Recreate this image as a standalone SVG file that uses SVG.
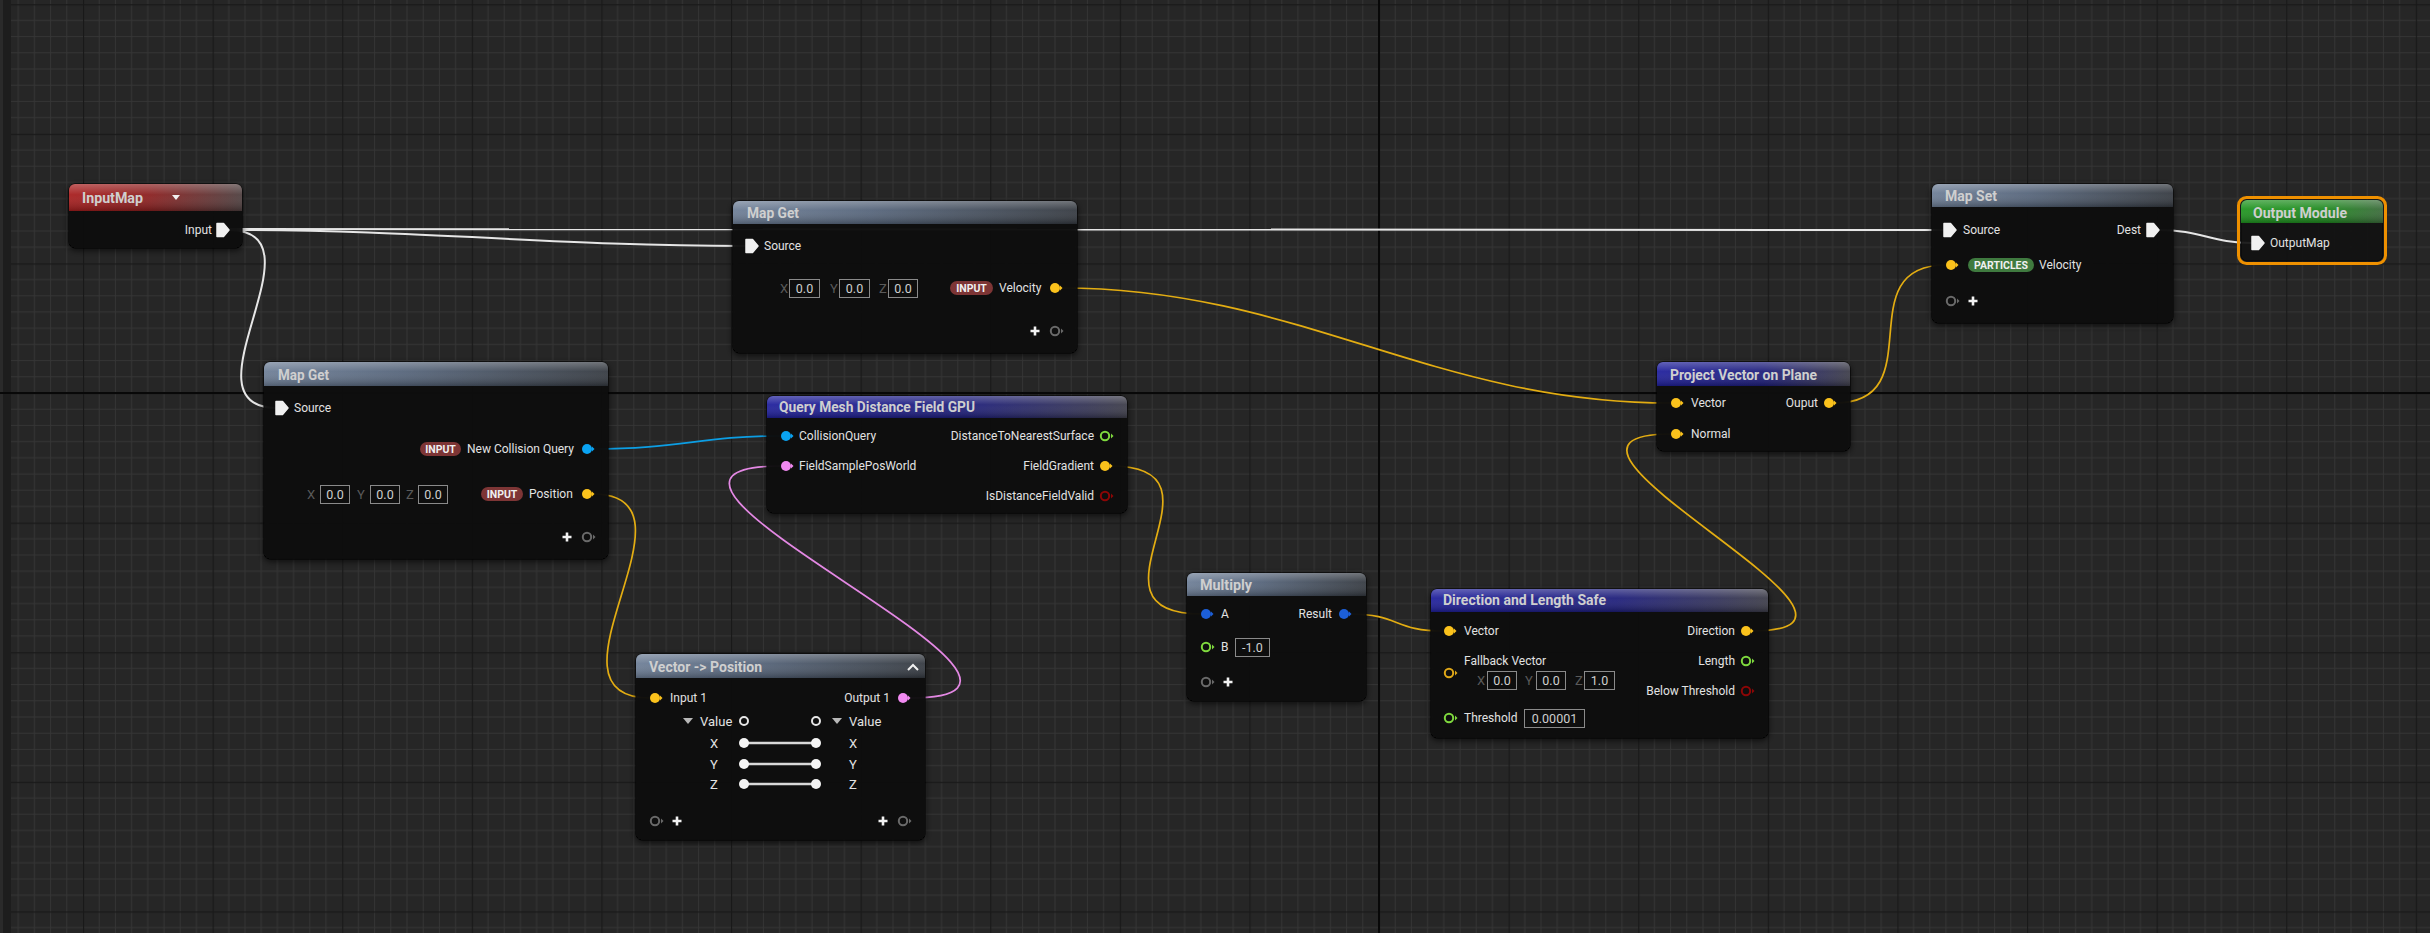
<svg xmlns="http://www.w3.org/2000/svg" xmlns:xlink="http://www.w3.org/1999/xlink" width="2430" height="933" viewBox="0 0 2430 933">
<defs>
  <pattern id="grid" patternUnits="userSpaceOnUse" x="83" y="4.2" width="129.6" height="129.6">
    <rect width="129.6" height="129.6" fill="#262626"/>
    <path d="M16.2 0V129.6M32.4 0V129.6M48.6 0V129.6M64.8 0V129.6M81 0V129.6M97.2 0V129.6M113.4 0V129.6M0 16.2H129.6M0 32.4H129.6M0 48.6H129.6M0 64.8H129.6M0 81H129.6M0 97.2H129.6M0 113.4H129.6" stroke="#353535" stroke-width="1" fill="none"/>
    <path d="M0.5 0V129.6M0 0.5H129.6" stroke="#191919" stroke-width="1.3" fill="none"/>
  </pattern>
  <linearGradient id="hGrey" x1="0" y1="0" x2="1" y2="0">
    <stop offset="0" stop-color="#6d7e96"/><stop offset="0.4" stop-color="#55647a"/><stop offset="1" stop-color="#343940"/>
  </linearGradient>
  <linearGradient id="hBlue" x1="0" y1="0" x2="1" y2="0">
    <stop offset="0" stop-color="#1f1f9c"/><stop offset="0.55" stop-color="#1d1d7a"/><stop offset="1" stop-color="#3c3c48"/>
  </linearGradient>
  <linearGradient id="hRed" x1="0" y1="0" x2="1" y2="0">
    <stop offset="0" stop-color="#a81d1d"/><stop offset="0.45" stop-color="#8c1e1e"/><stop offset="1" stop-color="#4d3e3e"/>
  </linearGradient>
  <linearGradient id="hGreen" x1="0" y1="0" x2="1" y2="0">
    <stop offset="0" stop-color="#1f951f"/><stop offset="0.6" stop-color="#1e881e"/><stop offset="1" stop-color="#3a6a3a"/>
  </linearGradient>
  <linearGradient id="gloss" x1="0" y1="0" x2="0" y2="1">
    <stop offset="0" stop-color="#ffffff" stop-opacity="0.3"/><stop offset="0.4" stop-color="#ffffff" stop-opacity="0.06"/><stop offset="1" stop-color="#000000" stop-opacity="0.25"/>
  </linearGradient>
  <filter id="sh" x="-10%" y="-10%" width="120%" height="130%">
    <feDropShadow dx="0" dy="2" stdDeviation="3" flood-color="#000" flood-opacity="0.7"/>
  </filter>
  <g id="pd"><circle r="5" fill="currentColor"/><path d="M5,-2.5 L7.5,0 L5,2.5Z" fill="currentColor"/></g>
  <g id="ph"><circle r="4.2" fill="none" stroke="currentColor" stroke-width="2"/><path d="M6,-2.5 L8.5,0 L6,2.5Z" fill="currentColor"/></g>
  <path id="pm" d="M-6,-6.5 L0.5,-6.5 L6,0 L0.5,6.5 L-6,6.5 Z" fill="#f0f0f0" stroke="#f0f0f0" stroke-width="1.5" stroke-linejoin="round"/>
  <path id="plus" d="M-4.5,0H4.5M0,-4.5V4.5" stroke="#f2f2f2" stroke-width="2.6" fill="none"/>
  <path id="tri" d="M-5,-3 L5,-3 L0,3Z" fill="#b8b8b8"/>
  <style>
    .body{fill:#111111;fill-opacity:0.92;stroke:#060606;stroke-width:1}
    .ttl{font-family:Roboto,"Liberation Sans",sans-serif;font-weight:bold;font-size:14px;fill:#cfcfcf}
    .lbl{font-family:Roboto,"Liberation Sans",sans-serif;font-size:12px;fill:#e2e2e2}
    .end{text-anchor:end}
    .dim{font-family:Roboto,"Liberation Sans",sans-serif;font-size:13px;fill:#5a5a5a}
    .val{font-family:Roboto,"Liberation Sans",sans-serif;font-size:12.5px;fill:#cfcfcf;text-anchor:middle}
    .box{fill:none;stroke:#8a8a8a;stroke-width:1}
    .pill{font-family:Roboto,"Liberation Sans",sans-serif;font-size:10.5px;font-weight:bold;fill:#f0f0f0;text-anchor:middle}
    .wire{fill:none;stroke-width:1.7}
    .w{stroke:#e6e6e6;stroke-width:2}
    .y{stroke:#e3ad12}
    .b{stroke:#0c9ee4}
    .p{stroke:#e488e4}
    .yc{color:#fbc21c}
    .bc{color:#0aa3f2}
    .pc{color:#f28af2}
    .mb{color:#1c5fd8}
    .gc{color:#7fd93e}
    .rc{color:#8c0606}
    .xc{color:#6a6a6a}
    .yh{color:#e0a818}
  </style>
</defs>

<rect width="2430" height="933" fill="url(#grid)"/>
<rect x="0" y="0" width="11" height="933" fill="#1d1d1d"/>
<rect x="0" y="0" width="3" height="933" fill="#2a2a2a"/>
<path d="M1379 0V933M0 393H2430" stroke="#080808" stroke-width="2" fill="none"/>

<g id="connectors">
  <path class="wire w" d="M229 230 C 429 230, 552 246, 746 246"/>
  <path class="wire w" d="M229 229 L1944 230"/>
  <path class="wire w" d="M229 230 C 329 230, 177 408, 277 408"/>
  <path class="wire w" d="M2159 230 C 2200 230, 2212 243, 2252 243"/>
  <path class="wire b" d="M593 449 C 680 449, 700 436, 781 436"/>
  <path class="wire y" d="M593 494 C 712 494, 530 698, 650 698"/>
  <path class="wire p" d="M909 698 C 1128 698, 561 466, 781 466"/>
  <path class="wire y" d="M1111 466 C 1240 466, 1071 614, 1201 614"/>
  <path class="wire y" d="M1350 614 C 1400 614, 1393 631, 1444 631"/>
  <path class="wire y" d="M1752 631 C 1931 631, 1491 434, 1671 434"/>
  <path class="wire y" d="M1061 288 C 1300 288, 1431 403, 1671 403"/>
  <path class="wire y" d="M1835 403 C 1934 403, 1846 265, 1946 265"/>
</g>

<g id="InputMap">
  <rect class="body" filter="url(#sh)" x="69" y="184" width="173" height="64" rx="6"/>
  <path d="M69 211V190a6 6 0 0 1 6-6H236a6 6 0 0 1 6 6V211Z" fill="url(#hRed)"/>
  <path d="M69 211V190a6 6 0 0 1 6-6H236a6 6 0 0 1 6 6V211Z" fill="url(#gloss)"/>
  <text class="ttl" x="82" y="203" textLength="61" lengthAdjust="spacingAndGlyphs">InputMap</text>
  <path d="M172 195 L180 195 L176 200Z" fill="#f0f0f0"/>
  <text class="lbl end" x="212" y="234">Input</text>
  <use href="#pm" x="223" y="230"/>
</g>

<g id="MapGet1">
  <rect class="body" filter="url(#sh)" x="733" y="201" width="344" height="152" rx="6"/>
  <path d="M733 224V207a6 6 0 0 1 6-6H1071a6 6 0 0 1 6 6V224Z" fill="url(#hGrey)"/>
  <path d="M733 224V207a6 6 0 0 1 6-6H1071a6 6 0 0 1 6 6V224Z" fill="url(#gloss)"/>
  <text class="ttl" x="747" y="218" textLength="52" lengthAdjust="spacingAndGlyphs">Map Get</text>
  <use href="#pm" x="752" y="246"/>
  <text class="lbl" x="764" y="250">Source</text>
  <text class="dim" x="780" y="293">X</text>
  <rect class="box" x="789.5" y="279.5" width="30" height="18"/>
  <text class="val" x="804.5" y="293">0.0</text>
  <text class="dim" x="830" y="293">Y</text>
  <rect class="box" x="839.5" y="279.5" width="30" height="18"/>
  <text class="val" x="854.5" y="293">0.0</text>
  <text class="dim" x="879" y="293">Z</text>
  <rect class="box" x="888.5" y="279.5" width="29" height="18"/>
  <text class="val" x="903" y="293">0.0</text>
  <rect x="950" y="281" width="43" height="14" rx="7" fill="#7d3535"/>
  <text class="pill" x="971.5" y="292">INPUT</text>
  <text class="lbl" x="999" y="292">Velocity</text>
  <use href="#pd" class="yc" x="1055" y="288"/>
  <use href="#plus" x="1035" y="331"/>
  <use href="#ph" class="xc" x="1055" y="331"/>
</g>

<g id="MapGet2">
  <rect class="body" filter="url(#sh)" x="264" y="362" width="344" height="197" rx="6"/>
  <path d="M264 386V368a6 6 0 0 1 6-6H602a6 6 0 0 1 6 6V386Z" fill="url(#hGrey)"/>
  <path d="M264 386V368a6 6 0 0 1 6-6H602a6 6 0 0 1 6 6V386Z" fill="url(#gloss)"/>
  <text class="ttl" x="278" y="380" textLength="51" lengthAdjust="spacingAndGlyphs">Map Get</text>
  <use href="#pm" x="282" y="408"/>
  <text class="lbl" x="294" y="412">Source</text>
  <rect x="420" y="442" width="41" height="14" rx="7" fill="#7d3535"/>
  <text class="pill" x="440.5" y="453">INPUT</text>
  <text class="lbl" x="467" y="453">New Collision Query</text>
  <use href="#pd" class="bc" x="587" y="449"/>
  <text class="dim" x="307" y="499">X</text>
  <rect class="box" x="320.5" y="485.5" width="29" height="18"/>
  <text class="val" x="335" y="499">0.0</text>
  <text class="dim" x="357" y="499">Y</text>
  <rect class="box" x="370.5" y="485.5" width="29" height="18"/>
  <text class="val" x="385" y="499">0.0</text>
  <text class="dim" x="406" y="499">Z</text>
  <rect class="box" x="418.5" y="485.5" width="29" height="18"/>
  <text class="val" x="433" y="499">0.0</text>
  <rect x="481" y="487" width="42" height="14" rx="7" fill="#7d3535"/>
  <text class="pill" x="502" y="498">INPUT</text>
  <text class="lbl" x="529" y="498">Position</text>
  <use href="#pd" class="yc" x="587" y="494"/>
  <use href="#plus" x="567" y="537"/>
  <use href="#ph" class="xc" x="587" y="537"/>
</g>

<g id="QueryMeshDistanceFieldGPU">
  <rect class="body" filter="url(#sh)" x="767" y="396" width="360" height="117" rx="6"/>
  <path d="M767 418V402a6 6 0 0 1 6-6H1121a6 6 0 0 1 6 6V418Z" fill="url(#hBlue)"/>
  <path d="M767 418V402a6 6 0 0 1 6-6H1121a6 6 0 0 1 6 6V418Z" fill="url(#gloss)"/>
  <text class="ttl" x="779" y="412" textLength="196" lengthAdjust="spacingAndGlyphs">Query Mesh Distance Field GPU</text>
  <use href="#pd" class="bc" x="786" y="436"/>
  <text class="lbl" x="799" y="440">CollisionQuery</text>
  <text class="lbl end" x="1094" y="440">DistanceToNearestSurface</text>
  <use href="#ph" class="gc" x="1105" y="436"/>
  <use href="#pd" class="pc" x="786" y="466"/>
  <text class="lbl" x="799" y="470">FieldSamplePosWorld</text>
  <text class="lbl end" x="1094" y="470">FieldGradient</text>
  <use href="#pd" class="yc" x="1105" y="466"/>
  <text class="lbl end" x="1094" y="500">IsDistanceFieldValid</text>
  <use href="#ph" class="rc" x="1105" y="496"/>
</g>

<g id="VectorToPosition">
  <rect class="body" filter="url(#sh)" x="636" y="654" width="289" height="186" rx="6"/>
  <path d="M636 678V660a6 6 0 0 1 6-6H919a6 6 0 0 1 6 6V678Z" fill="url(#hGrey)"/>
  <path d="M636 678V660a6 6 0 0 1 6-6H919a6 6 0 0 1 6 6V678Z" fill="url(#gloss)"/>
  <text class="ttl" x="649" y="672" textLength="113" lengthAdjust="spacingAndGlyphs">Vector -&gt; Position</text>
  <path d="M908 670 L913 665 L918 670" stroke="#f0f0f0" stroke-width="2" fill="none"/>
  <use href="#pd" class="yc" x="655" y="698"/>
  <text class="lbl" x="670" y="702">Input 1</text>
  <text class="lbl end" x="890" y="702">Output 1</text>
  <use href="#pd" class="pc" x="903" y="698"/>
  <use href="#tri" x="688" y="721"/>
  <text class="lbl" x="700" y="726" style="font-size:13px">Value</text>
  <circle cx="744" cy="721" r="4" fill="none" stroke="#e6e6e6" stroke-width="2"/>
  <circle cx="816" cy="721" r="4" fill="none" stroke="#e6e6e6" stroke-width="2"/>
  <use href="#tri" x="837" y="721"/>
  <text class="lbl" x="849" y="726" style="font-size:13px">Value</text>
  <g stroke="#d8d8d8" stroke-width="2.5">
    <path d="M744 743H816M744 764H816M744 784H816"/>
  </g>
  <g fill="#f4f4f4">
    <circle cx="744" cy="743" r="5"/><circle cx="816" cy="743" r="5"/>
    <circle cx="744" cy="764" r="5"/><circle cx="816" cy="764" r="5"/>
    <circle cx="744" cy="784" r="5"/><circle cx="816" cy="784" r="5"/>
  </g>
  <g class="lbl" style="text-anchor:middle;font-size:13px">
    <text x="714" y="748">X</text><text x="714" y="769">Y</text><text x="714" y="789">Z</text>
    <text x="853" y="748">X</text><text x="853" y="769">Y</text><text x="853" y="789">Z</text>
  </g>
  <use href="#ph" class="xc" x="655" y="821"/>
  <use href="#plus" x="677" y="821"/>
  <use href="#plus" x="883" y="821"/>
  <use href="#ph" class="xc" x="903" y="821"/>
</g>

<g id="Multiply">
  <rect class="body" filter="url(#sh)" x="1187" y="573" width="179" height="128" rx="6"/>
  <path d="M1187 596V579a6 6 0 0 1 6-6H1360a6 6 0 0 1 6 6V596Z" fill="url(#hGrey)"/>
  <path d="M1187 596V579a6 6 0 0 1 6-6H1360a6 6 0 0 1 6 6V596Z" fill="url(#gloss)"/>
  <text class="ttl" x="1200" y="590" textLength="52" lengthAdjust="spacingAndGlyphs">Multiply</text>
  <use href="#pd" class="mb" x="1206" y="614"/>
  <text class="lbl" x="1221" y="618">A</text>
  <text class="lbl end" x="1332" y="618">Result</text>
  <use href="#pd" class="mb" x="1344" y="614"/>
  <use href="#ph" class="gc" x="1206" y="647"/>
  <text class="lbl" x="1221" y="651">B</text>
  <rect class="box" x="1235.5" y="638.5" width="34" height="18"/>
  <text class="val" x="1252.5" y="652">-1.0</text>
  <use href="#ph" class="xc" x="1206" y="682"/>
  <use href="#plus" x="1228" y="682"/>
</g>

<g id="DirectionAndLengthSafe">
  <rect class="body" filter="url(#sh)" x="1431" y="589" width="337" height="149" rx="6"/>
  <path d="M1431 612V595a6 6 0 0 1 6-6H1762a6 6 0 0 1 6 6V612Z" fill="url(#hBlue)"/>
  <path d="M1431 612V595a6 6 0 0 1 6-6H1762a6 6 0 0 1 6 6V612Z" fill="url(#gloss)"/>
  <text class="ttl" x="1443" y="605" textLength="163" lengthAdjust="spacingAndGlyphs">Direction and Length Safe</text>
  <use href="#pd" class="yc" x="1449" y="631"/>
  <text class="lbl" x="1464" y="635">Vector</text>
  <text class="lbl end" x="1735" y="635">Direction</text>
  <use href="#pd" class="yc" x="1746" y="631"/>
  <text class="lbl" x="1464" y="665">Fallback Vector</text>
  <use href="#ph" class="yh" x="1449" y="673"/>
  <text class="dim" x="1477" y="685">X</text>
  <rect class="box" x="1487.5" y="671.5" width="29" height="18"/>
  <text class="val" x="1502" y="685">0.0</text>
  <text class="dim" x="1525" y="685">Y</text>
  <rect class="box" x="1536.5" y="671.5" width="29" height="18"/>
  <text class="val" x="1551" y="685">0.0</text>
  <text class="dim" x="1575" y="685">Z</text>
  <rect class="box" x="1584.5" y="671.5" width="30" height="18"/>
  <text class="val" x="1599.5" y="685">1.0</text>
  <text class="lbl end" x="1735" y="665">Length</text>
  <use href="#ph" class="gc" x="1746" y="661"/>
  <text class="lbl end" x="1735" y="695">Below Threshold</text>
  <use href="#ph" class="rc" x="1746" y="691"/>
  <use href="#ph" class="gc" x="1449" y="718"/>
  <text class="lbl" x="1464" y="722">Threshold</text>
  <rect class="box" x="1524.5" y="709.5" width="60" height="18"/>
  <text class="val" x="1554.5" y="723">0.00001</text>
</g>

<g id="ProjectVectorOnPlane">
  <rect class="body" filter="url(#sh)" x="1657" y="362" width="193" height="89" rx="6"/>
  <path d="M1657 386V368a6 6 0 0 1 6-6H1844a6 6 0 0 1 6 6V386Z" fill="url(#hBlue)"/>
  <path d="M1657 386V368a6 6 0 0 1 6-6H1844a6 6 0 0 1 6 6V386Z" fill="url(#gloss)"/>
  <text class="ttl" x="1670" y="380" textLength="147" lengthAdjust="spacingAndGlyphs">Project Vector on Plane</text>
  <use href="#pd" class="yc" x="1676" y="403"/>
  <text class="lbl" x="1691" y="407">Vector</text>
  <text class="lbl end" x="1818" y="407">Ouput</text>
  <use href="#pd" class="yc" x="1829" y="403"/>
  <use href="#pd" class="yc" x="1676" y="434"/>
  <text class="lbl" x="1691" y="438">Normal</text>
</g>

<g id="MapSet">
  <rect class="body" filter="url(#sh)" x="1932" y="184" width="241" height="139" rx="6"/>
  <path d="M1932 207V190a6 6 0 0 1 6-6H2167a6 6 0 0 1 6 6V207Z" fill="url(#hGrey)"/>
  <path d="M1932 207V190a6 6 0 0 1 6-6H2167a6 6 0 0 1 6 6V207Z" fill="url(#gloss)"/>
  <text class="ttl" x="1945" y="201" textLength="52" lengthAdjust="spacingAndGlyphs">Map Set</text>
  <use href="#pm" x="1950" y="230"/>
  <text class="lbl" x="1963" y="234">Source</text>
  <text class="lbl end" x="2141" y="234">Dest</text>
  <use href="#pm" x="2153" y="230"/>
  <use href="#pd" class="yc" x="1951" y="265"/>
  <rect x="1968" y="258" width="66" height="14" rx="7" fill="#3f7a3f"/>
  <text class="pill" x="2001" y="269">PARTICLES</text>
  <text class="lbl" x="2039" y="269">Velocity</text>
  <use href="#ph" class="xc" x="1951" y="301"/>
  <use href="#plus" x="1973" y="301"/>
</g>

<g id="OutputModule">
  <rect x="2238.5" y="197.5" width="147" height="66" rx="8" fill="none" stroke="#ee9000" stroke-width="3"/>
  <rect class="body" x="2241" y="200" width="142" height="61" rx="6"/>
  <path d="M2241 223V206a6 6 0 0 1 6-6H2377a6 6 0 0 1 6 6V223Z" fill="url(#hGreen)"/>
  <path d="M2241 223V206a6 6 0 0 1 6-6H2377a6 6 0 0 1 6 6V223Z" fill="url(#gloss)"/>
  <text class="ttl" x="2253" y="218" textLength="94" lengthAdjust="spacingAndGlyphs">Output Module</text>
  <use href="#pm" x="2258" y="243"/>
  <text class="lbl" x="2270" y="247">OutputMap</text>
</g>
</svg>
